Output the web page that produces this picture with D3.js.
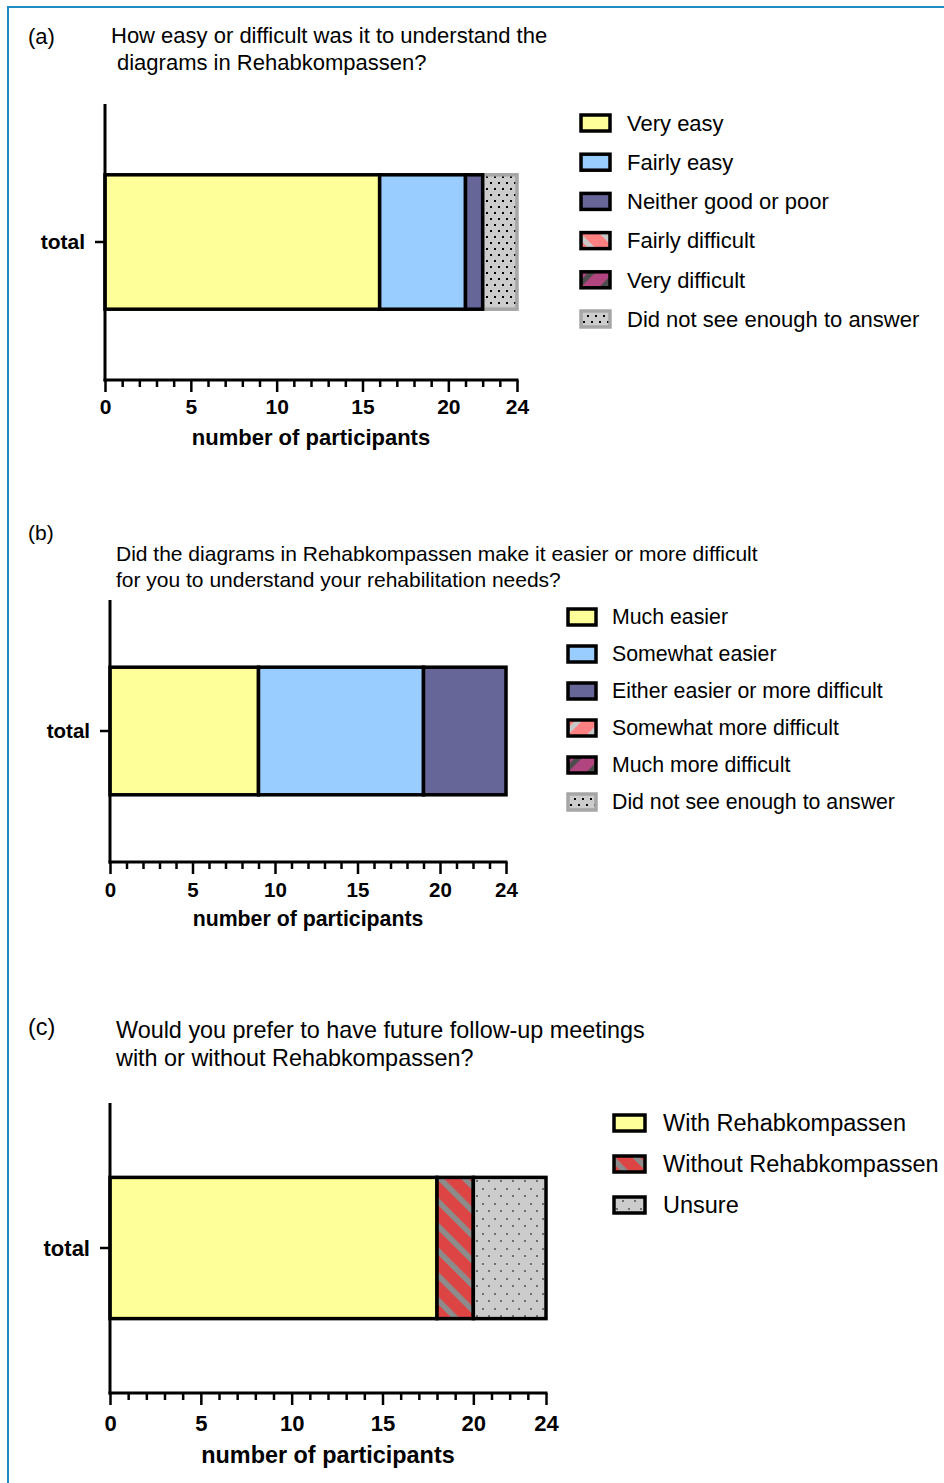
<!DOCTYPE html>
<html>
<head>
<meta charset="utf-8">
<script src="https://cdn.jsdelivr.net/npm/d3@7"></script>
<style>
  body { margin: 0; background: #fff; }
  svg { display: block; }
  text { font-family: "Liberation Sans", Arial, Helvetica, sans-serif; fill: #000; }
</style>
</head>
<body>
<script>
// ---- data ----
var rowLabel = ["total"];
var tickLabels = [0, 5, 10, 15, 20, 24];

// (a)
var titleA = ["How easy or difficult was it to understand the", "diagrams in Rehabkompassen?"];
var categoriesA = ["Very easy", "Fairly easy", "Neither good or poor", "Fairly difficult", "Very difficult", "Did not see enough to answer"];
var valuesA = [16, 5, 1, 0, 0, 2];

// (b)
var titleB = ["Did the diagrams in Rehabkompassen make it easier or more difficult", "for you to understand your rehabilitation needs?"];
var categoriesB = ["Much easier", "Somewhat easier", "Either easier or more difficult", "Somewhat more difficult", "Much more difficult", "Did not see enough to answer"];
var valuesB = [9, 10, 5, 0, 0, 0];

// (c)
var titleC = ["Would you prefer to have future follow-up meetings", "with or without Rehabkompassen?"];
var categoriesC = ["With Rehabkompassen", "Without Rehabkompassen", "Unsure"];
var valuesC = [18, 2, 4];

// ---- styles ----
var fillsA = ["#ffff99", "#99ccff", "#666699", "url(#stripeSalmonBack)", "url(#stripeMagenta)", "url(#dotsBlack)"];
var strokesA = ["#000", "#000", "#000", "#000", "#000", "#a6a6a6"];
var fillsB = ["#ffff99", "#99ccff", "#666699", "url(#stripeSalmon)", "url(#stripeMagenta)", "url(#dotsBlack)"];
var strokesB = strokesA;
var fillsC = ["#ffff99", "url(#stripeRed)", "url(#dotsGray)"];
var strokesC = ["#000", "#000", "#000"];

var W = 944, H = 1483;
var svg = d3.select("body").append("svg")
    .attr("width", W)
    .attr("height", H);

// blue frame (left + top only)
svg.append("path")
    .attr("d", "M8," + H + "V7H" + W)
    .attr("fill", "none")
    .attr("stroke", "#1e8bc3")
    .attr("stroke-width", 2);

// ---- patterns ----
var defs = svg.append("defs");

function stripes(id, bg, fg, angle, period, lineW) {
    var p = defs.append("pattern")
        .attr("id", id)
        .attr("patternUnits", "userSpaceOnUse")
        .attr("width", period)
        .attr("height", period)
        .attr("patternTransform", "rotate(" + angle + ")");
    p.append("rect").attr("width", period).attr("height", period).attr("fill", bg);
    p.append("rect").attr("width", lineW).attr("height", period).attr("fill", fg);
}
stripes("stripeSalmonBack", "#ff8080", "#c8c8c8", -45, 18, 5);
stripes("stripeSalmon", "#ff8080", "#c8c8c8", 45, 18, 5);
stripes("stripeMagenta", "#b0457f", "#4d4d4d", 45, 18, 5);
stripes("stripeRed", "#dd4444", "#8c8c8c", -45, 17.5, 5.5);

function dots(id, bg, fg, w, h, pts) {
    var p = defs.append("pattern")
        .attr("id", id)
        .attr("patternUnits", "userSpaceOnUse")
        .attr("width", w)
        .attr("height", h);
    p.append("rect").attr("width", w).attr("height", h).attr("fill", bg);
    pts.forEach(function(q) {
        p.append("rect").attr("x", q[0]).attr("y", q[1]).attr("width", 2).attr("height", 2).attr("fill", fg);
    });
}
dots("dotsBlack", "#cccccc", "#000", 8, 12, [[2, 2], [6, 8]]);
dots("dotsGray", "#cccccc", "#707070", 12, 15, [[2, 3], [8, 10]]);

// ---- one panel ----
function drawPanel(cfg) {
    var g = svg.append("g");

    // letter and title
    g.append("text")
        .attr("x", 28).attr("y", cfg.letterY)
        .style("font-size", cfg.titleSize + "px")
        .text(cfg.letter);
    g.selectAll(".title")
        .data(cfg.title)
        .enter().append("text")
        .attr("class", "title")
        .attr("x", function(d, i) { return cfg.titleX[i]; })
        .attr("y", function(d, i) { return cfg.titleY + i * cfg.titleLead; })
        .style("font-size", cfg.titleSize + "px")
        .text(function(d) { return d; });

    var x = d3.scaleLinear().domain([0, 24]).range([cfg.x0, cfg.x1]);
    var y = d3.scaleBand().domain(rowLabel).range([cfg.yTop, cfg.yBot]).padding(0.345);

    // stacked bar
    var row = {};
    cfg.categories.forEach(function(c, i) { row[c] = cfg.values[i]; });
    var series = d3.stack().keys(cfg.categories)([row]);
    var segs = series.map(function(s, i) {
        return { key: s.key, x0: s[0][0], x1: s[0][1], fill: cfg.fills[i], stroke: cfg.strokes[i] };
    }).filter(function(d) { return d.x1 > d.x0; });
    // grey-edged pieces first so black outlines sit on top
    segs.sort(function(a, b) { return (a.stroke === "#000") - (b.stroke === "#000"); });

    g.selectAll(".seg")
        .data(segs)
        .enter().append("rect")
        .attr("class", "seg")
        .attr("x", function(d) { return x(d.x0); })
        .attr("width", function(d) { return x(d.x1) - x(d.x0); })
        .attr("y", y("total"))
        .attr("height", y.bandwidth())
        .attr("fill", function(d) { return d.fill; })
        .attr("stroke", function(d) { return d.stroke; })
        .attr("stroke-width", 3.5);

    // x axis
    var xAxis = d3.axisBottom(x)
        .tickValues(d3.range(0, 25))
        .tickSizeInner(7)
        .tickSizeOuter(0)
        .tickFormat(function(d) { return tickLabels.indexOf(d) >= 0 ? d : ""; });
    var gx = g.append("g")
        .attr("transform", "translate(0," + cfg.yBot + ")")
        .call(xAxis);
    gx.select(".domain").attr("stroke-width", 3).attr("d", "M" + (cfg.x0 - 1.5) + ",0H" + (cfg.x1 + 1.5));
    gx.selectAll(".tick line").attr("stroke-width", 2.5)
        .attr("y2", function(d) { return tickLabels.indexOf(d) >= 0 ? 12 : 7; });
    gx.selectAll(".tick text")
        .attr("y", cfg.tickLabelDy)
        .attr("dy", "0.35em")
        .style("font-size", cfg.tickSize + "px")
        .style("font-weight", "bold")
        .style("font-family", "'Liberation Sans', Arial, sans-serif");

    g.append("text")
        .attr("x", (cfg.x0 + cfg.x1) / 2)
        .attr("y", cfg.yBot + cfg.axisTitleDy)
        .attr("dy", "0.35em")
        .attr("text-anchor", "middle")
        .style("font-size", cfg.labelSize + "px")
        .style("font-weight", "bold")
        .text("number of participants");

    // y axis
    var yAxis = d3.axisLeft(y).tickSizeInner(10).tickSizeOuter(0).tickPadding(10);
    var gy = g.append("g")
        .attr("transform", "translate(" + cfg.x0 + ",0)")
        .call(yAxis);
    gy.select(".domain").attr("stroke-width", 3).attr("d", "M0," + cfg.yTop + "V" + (cfg.yBot + 1.5));
    gy.selectAll(".tick line").attr("stroke-width", 2.5);
    gy.selectAll(".tick text")
        .attr("dy", "0.35em")
        .style("font-size", cfg.tickSize + "px")
        .style("font-weight", "bold")
        .style("font-family", "'Liberation Sans', Arial, sans-serif");

    // legend
    var lg = g.selectAll(".leg")
        .data(cfg.categories)
        .enter().append("g")
        .attr("class", "leg")
        .attr("transform", function(d, i) { return "translate(" + cfg.legX + "," + (cfg.legY + i * cfg.legStep) + ")"; });
    lg.append("rect")
        .attr("x", 0).attr("y", -8)
        .attr("width", cfg.swW).attr("height", 16)
        .attr("fill", function(d, i) { return cfg.fills[i]; })
        .attr("stroke", function(d, i) { return cfg.strokes[i]; })
        .attr("stroke-width", 3.5);
    lg.append("text")
        .attr("x", cfg.legTextX)
        .attr("dy", "0.35em")
        .style("font-size", cfg.legSize + "px")
        .text(function(d) { return d; });
}

drawPanel({
    letter: "(a)", letterY: 44, title: titleA, titleX: [111, 117], titleY: 43, titleLead: 27, titleSize: 22,
    categories: categoriesA, values: valuesA, fills: fillsA, strokes: strokesA,
    x0: 105, x1: 517, yTop: 104, yBot: 380,
    tickSize: 21, tickLabelDy: 27, labelSize: 22, axisTitleDy: 57,
    legX: 581, legY: 123, legStep: 39.2, swW: 29, legTextX: 46, legSize: 22
});

drawPanel({
    letter: "(b)", letterY: 540, title: titleB, titleX: [116, 116], titleY: 561, titleLead: 26, titleSize: 21,
    categories: categoriesB, values: valuesB, fills: fillsB, strokes: strokesB,
    x0: 110, x1: 506, yTop: 600, yBot: 862,
    tickSize: 20.5, tickLabelDy: 28, labelSize: 21.3, axisTitleDy: 57,
    legX: 568, legY: 617, legStep: 37, swW: 28, legTextX: 44, legSize: 21.3
});

drawPanel({
    letter: "(c)", letterY: 1035, title: titleC, titleX: [116, 116], titleY: 1038, titleLead: 28, titleSize: 23.4,
    categories: categoriesC, values: valuesC, fills: fillsC, strokes: strokesC,
    x0: 110, x1: 546, yTop: 1103, yBot: 1393,
    tickSize: 22, tickLabelDy: 30, labelSize: 23.4, axisTitleDy: 62,
    legX: 614, legY: 1123, legStep: 41, swW: 31, legTextX: 49, legSize: 23.5
});
</script>
</body>
</html>
